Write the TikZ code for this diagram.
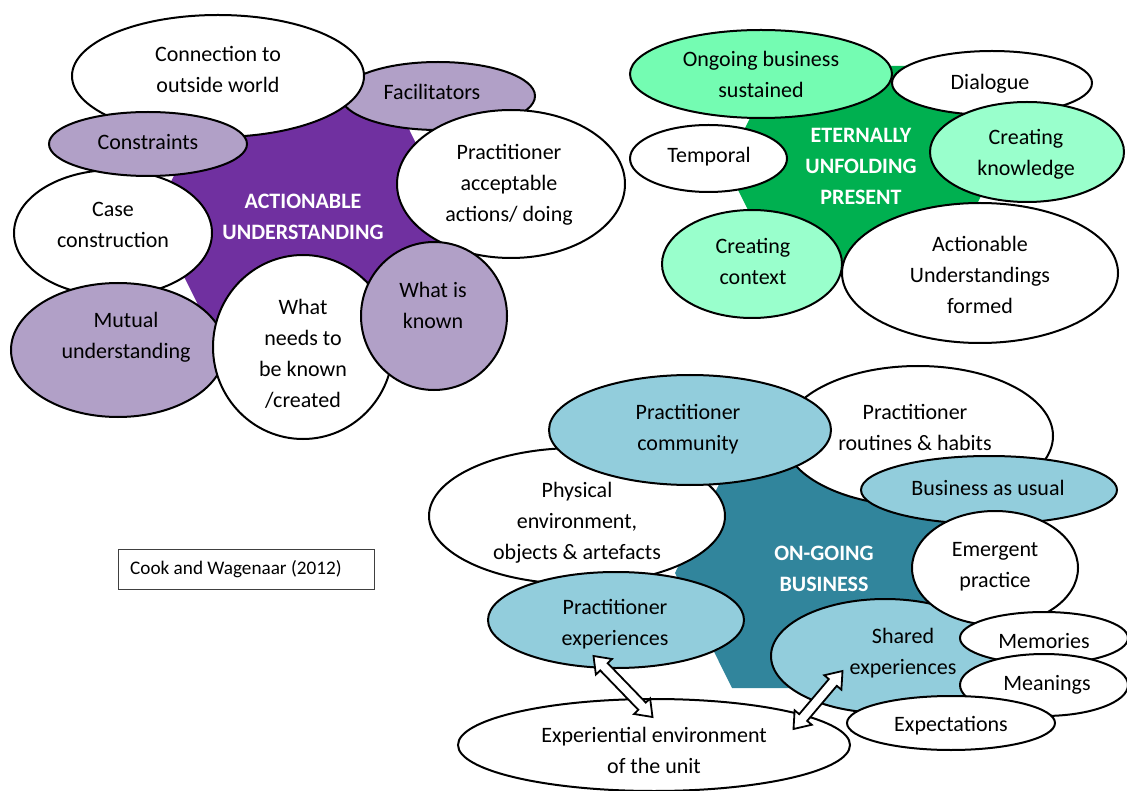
\documentclass[tikz,border=0pt]{standalone}
\usepackage{fontspec}
\setmainfont{Carlito}
\usetikzlibrary{shapes.geometric,calc}

\definecolor{purpleD}{HTML}{7030A0}
\definecolor{purpleL}{HTML}{B1A0C7}
\definecolor{greenD}{HTML}{00B050}
\definecolor{greenM}{HTML}{74FCB2}
\definecolor{greenL}{HTML}{99FFCC}
\definecolor{tealD}{HTML}{31859C}
\definecolor{tealL}{HTML}{92CDDC}

\tikzset{
  bub/.style={ellipse, draw=black, line width=2pt, inner sep=0pt},
  txt/.style={align=center, inner sep=0pt, font=\fontsize{22}{31}\selectfont,
    execute at begin node=\strut, execute at end node=\strut},
  txts/.style={txt, yshift=-1.5pt},
  txtm/.style={txt, yshift=-5pt},
  hub/.style={txtm, text=white, font=\fontsize{22}{31}\selectfont\bfseries},
  arrowline/.style={draw=black, fill=white, line width=1.8pt, line join=miter},
}

% hollow two-headed block arrow between two named points
\newcommand\twowayarrow[2]{%
  \path[arrowline] (#1)
    -- ($(#1)!15pt!(#2)!11.2pt!90:(#2)$)
    -- ($(#1)!15pt!(#2)!5.2pt!90:(#2)$)
    -- ($(#2)!15pt!(#1)!5.2pt!-90:(#1)$)
    -- ($(#2)!15pt!(#1)!11.2pt!-90:(#1)$)
    -- (#2)
    -- ($(#2)!15pt!(#1)!11.2pt!90:(#1)$)
    -- ($(#2)!15pt!(#1)!5.2pt!90:(#1)$)
    -- ($(#1)!15pt!(#2)!5.2pt!-90:(#2)$)
    -- ($(#1)!15pt!(#2)!11.2pt!-90:(#2)$)
    -- cycle;}

\begin{document}
\begin{tikzpicture}[x=1pt, y=-1pt]
\useasboundingbox (0,0) rectangle (1127,791);

% ---------- Actionable understanding ----------
\fill[purpleD] (154,216) -- (211,101) -- (395,101) -- (452,216) -- (395,331) -- (211,331) -- cycle;
\node[bub, fill=purpleL, minimum width=194pt, minimum height=68pt] (facil) at (438,96) {};
\node[bub, fill=white, minimum width=292pt, minimum height=122pt] (conn) at (218,76) {};
\node[bub, fill=white, minimum width=198pt, minimum height=126pt] (case) at (113,233) {};
\node[bub, fill=purpleL, minimum width=198pt, minimum height=64pt] (constr) at (148,144) {};
\node[bub, fill=white, minimum width=228pt, minimum height=148pt] (pract) at (511,184) {};
\node[bub, fill=purpleL, minimum width=214pt, minimum height=134pt] (mutual) at (118,350) {};
\node[bub, fill=white, minimum width=180pt, minimum height=184pt] (needs) at (303,347) {};
\node[bub, fill=purpleL, minimum width=146pt, minimum height=148pt] (known) at (434,316) {};

\node[hub] (au) at (303,216.5) {ACTIONABLE\\UNDERSTANDING};
\node[txts] (facil-t) at (432,92) {Facilitators};
\node[txtm] (conn-t) at (218,69.5) {Connection to\\outside world};
\node[txtm] (case-t) at (113,224.5) {Case\\construction};
\node[txts] (constr-t) at (148,142) {Constraints};
\node[txtm] (pract-t) at (509,183) {Practitioner\\acceptable\\actions/ doing};
\node[txtm] (mutual-t) at (126,335.5) {Mutual\\understanding};
\node[txtm] (needs-t) at (303,353) {What\\needs to\\be known\\/created};
\node[txtm] (known-t) at (433,305.5) {What is\\known};

% ---------- Eternally unfolding present ----------
\fill[greenD] (726,166) -- (776,66) -- (946,66) -- (996,166) -- (946,266) -- (776,266) -- cycle;
\node[bub, fill=greenM, minimum width=262pt, minimum height=88pt] (ongo) at (761,74) {};
\node[bub, fill=white, minimum width=200pt, minimum height=64pt] (dial) at (992,83) {};
\node[bub, fill=white, minimum width=157pt, minimum height=67pt] (temp) at (708.5,158.5) {};
\node[bub, fill=greenL, minimum width=194pt, minimum height=100pt] (cknow) at (1027,152) {};
\node[bub, fill=greenL, minimum width=180pt, minimum height=108pt] (ccont) at (752,264) {};
\node[bub, fill=white, minimum width=276pt, minimum height=140pt] (auf) at (980,273) {};

\node[hub] (eup) at (861,166) {ETERNALLY\\UNFOLDING\\PRESENT};
\node[txtm] (ongo-t) at (761,74.5) {Ongoing business\\sustained};
\node[txts] (dial-t) at (990,82) {Dialogue};
\node[txts] (temp-t) at (709,155) {Temporal};
\node[txtm] (cknow-t) at (1026,152.5) {Creating\\knowledge};
\node[txtm] (ccont-t) at (753,261.5) {Creating\\context};
\node[txtm] (auf-t) at (980,274.5) {Actionable\\Understandings\\formed};

% ---------- On-going business ----------
\fill[tealD] (675,573) -- (732,458) -- (916,458) -- (973,573) -- (916,688) -- (732,688) -- cycle;
\node[bub, fill=white, minimum width=270pt, minimum height=140pt] (rout) at (918,436) {};
\node[bub, fill=white, minimum width=296pt, minimum height=136pt] (phys) at (577,516) {};
\node[bub, fill=tealL, minimum width=282pt, minimum height=110pt] (comm) at (690,430) {};
\node[bub, fill=tealL, minimum width=256pt, minimum height=68pt] (bau) at (989,490) {};
\node[bub, fill=tealL, minimum width=228pt, minimum height=114pt] (shared) at (885,656) {};
\node[bub, fill=white, minimum width=166pt, minimum height=114pt] (emerg) at (995,568) {};
\node[bub, fill=white, minimum width=168pt, minimum height=52pt] (memo) at (1044,638) {};
\node[bub, fill=white, minimum width=168pt, minimum height=62pt] (mean) at (1044,685) {};
\node[bub, fill=white, minimum width=208pt, minimum height=54pt] (expect) at (951,723) {};
\node[bub, fill=tealL, minimum width=256pt, minimum height=96pt] (pexp) at (616,620) {};
\node[bub, fill=white, minimum width=392pt, minimum height=92pt] (envu) at (654,745) {};

\node[hub] (ogb) at (824,568.5) {ON-GOING\\BUSINESS};
\node[txtm] (rout-t) at (915,427.5) {Practitioner\\routines \& habits};
\node[txtm] (phys-t) at (577,521) {Physical\\environment,\\objects \& artefacts};
\node[txtm] (comm-t) at (688,427.5) {Practitioner\\community};
\node[txts] (bau-t) at (988,488) {Business as usual};
\node[txtm] (shared-t) at (903,651.5) {Shared\\experiences};
\node[txtm] (emerg-t) at (995,564.5) {Emergent\\practice};
\node[txts] (memo-t) at (1044,641) {Memories};
\node[txts] (mean-t) at (1047,683) {Meanings};
\node[txts] (expect-t) at (951,724) {Expectations};
\node[txtm] (pexp-t) at (615,622.5) {Practitioner\\experiences};
\node[txtm] (envu-t) at (654,750.5) {Experiential environment\\of the unit};

% two-way block arrows to the experiential environment
\coordinate (a1s) at (593.5,656);
\coordinate (a1e) at (652.5,717);
\coordinate (a2s) at (793.5,729);
\coordinate (a2e) at (842.5,671);
\twowayarrow{a1s}{a1e}
\twowayarrow{a2s}{a2e}

% citation box
\node[draw=black!75, line width=1pt, minimum width=256pt, minimum height=40pt, inner sep=0pt] (cite) at (246,569) {};
\node[anchor=west, inner sep=0pt, font=\fontsize{19.2}{24}\selectfont] (cite-t) at (130,569) {Cook and Wagenaar (2012)};

\end{tikzpicture}
\end{document}
